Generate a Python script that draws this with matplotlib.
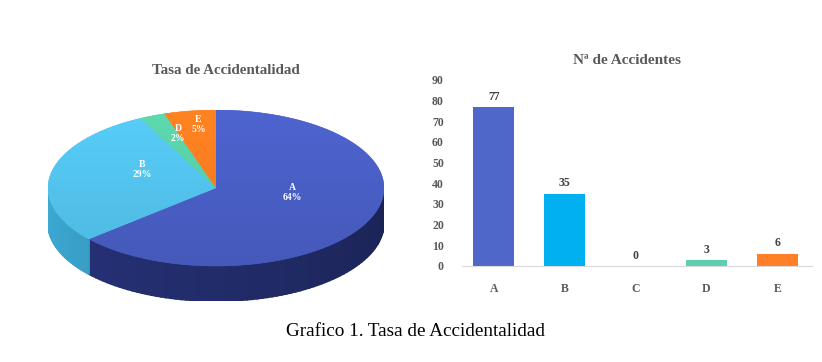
import numpy as np
import matplotlib
matplotlib.use("Agg")
import matplotlib.pyplot as plt
from matplotlib.patches import Polygon
from matplotlib.colors import to_rgb

categories = ["A", "B", "C", "D", "E"]
accidents = [77, 35, 0, 3, 6]
bar_colors = ["#4F67C8", "#00B0F0", "#A5A5A5", "#5CCFB0", "#FF7F27"]
pie_top_colors = ["#4A5FC6", "#53C4EE", "#A5A5A5", "#5ACFA8", "#F77D20"]
pie_side_colors = ["#263278", "#3AA3CC", "#808080", "#3FA888", "#C05A10"]
yticks = [0, 10, 20, 30, 40, 50, 60, 70, 80, 90]

W, H = 822, 362
fig = plt.figure(figsize=(W / 100, H / 100), dpi=100)
fig.patch.set_facecolor("white")
serif = "Liberation Serif"
grey = "#595959"

# ---------------- 3D pie -----------------
cx, cy, a_px, b_px = 216, 188, 168, 78
depth = 0.45  # in y units of the pie axes
axp = fig.add_axes([(cx - a_px) / W, 1 - (cy + b_px + depth * b_px) / H,
                    2 * a_px / W, (2 + depth) * b_px / H])
axp.axis("off")

total = sum(accidents)
fracs = [v / total for v in accidents]
start = 90.0
angles = []
for f in fracs:
    end = start - 360 * f
    angles.append((end, start))
    start = end

def shade(c, k):
    r, g, b = to_rgb(c)
    return (min(r * k, 1), min(g * k, 1), min(b * k, 1))

# sides (front half only)
for (a0, a1), col, v in zip(angles, pie_side_colors, accidents):
    if v == 0:
        continue
    lo, hi = np.radians(a0), np.radians(a1)
    for off in (0, -2 * np.pi, 2 * np.pi):
        s = max(lo + off, -np.pi)
        e = min(hi + off, 0)
        if e > s:
            t = np.linspace(s, e, 80)
            for i in range(len(t) - 1):
                x0, x1 = np.cos(t[i]), np.cos(t[i + 1])
                y0, y1 = np.sin(t[i]), np.sin(t[i + 1])
                k = 1.05 - 0.35 * (t[i] + np.pi) / np.pi
                c = shade(col, k)
                poly = Polygon([(x0, y0), (x1, y1), (x1, y1 - depth), (x0, y0 - depth)],
                               closed=True, facecolor=c, edgecolor=c, linewidth=1.2)
                axp.add_patch(poly)

# top face with soft vertical gradient
for (a0, a1), col, v in zip(angles, pie_top_colors, accidents):
    if v == 0:
        continue
    t = np.radians(np.linspace(a0, a1, 200))
    pts = [(0, 0)] + list(zip(np.cos(t), np.sin(t)))
    patch = Polygon(pts, closed=True, facecolor=col, edgecolor=col, linewidth=0.3)
    axp.add_patch(patch)
    ramp = np.linspace(1.05, 0.94, 100)
    img = np.array([[shade(col, k)] for k in ramp])
    im = axp.imshow(img, extent=(-1, 1, -1, 1), aspect="auto", origin="upper",
                    interpolation="bilinear", zorder=1.5)
    im.set_clip_path(patch)

axp.set_xlim(-1, 1)
axp.set_ylim(-1 - depth, 1)

label_xy_r = [0.5, 0.45, 0.62, 0.59, 0.67]
lift = 0.15
for (a0, a1), cat, f, r, v in zip(angles, categories, fracs, label_xy_r, accidents):
    if v == 0:
        continue
    m = np.radians((a0 + a1) / 2)
    axp.text(r * np.cos(m), r * np.sin(m) + lift, f"{cat}\n{round(f * 100):.0f}%",
             ha="center", va="center", color="white", fontsize=7,
             fontweight="bold", family=serif, linespacing=1.1, zorder=3)

fig.text(226 / W, 1 - 71 / H, "Tasa de Accidentalidad", ha="center", va="center",
         fontsize=10.8, fontweight="bold", family=serif, color=grey)

# ---------------- bars -----------------
axb = fig.add_axes([462 / W, 1 - 266 / H, (812 - 462) / W, (266 - 80) / H])
x = np.arange(len(categories))
axb.bar(x, accidents, width=0.58, color=bar_colors)
axb.set_xlim(-0.45, 4.49)
axb.set_ylim(0, 90)
axb.set_yticks(yticks)
axb.set_xticks(x)
axb.set_xticklabels(categories)
for sp in ["top", "right", "left"]:
    axb.spines[sp].set_visible(False)
axb.spines["bottom"].set_color("#D9D9D9")
axb.tick_params(length=0, labelsize=8.5, colors=grey, pad=12)
axb.tick_params(axis="y", pad=13)
for lab in axb.get_xticklabels() + axb.get_yticklabels():
    lab.set_family(serif)
    lab.set_fontweight("bold")
for xi, v in zip(x, accidents):
    axb.annotate(str(v), (xi, v), xytext=(0, 3), textcoords="offset points",
                 ha="center", va="bottom", fontsize=8.5, fontweight="bold",
                 family=serif, color="#404040")

fig.text(627 / W, 1 - 60 / H, "Nª de Accidentes", ha="center", va="center",
         fontsize=11, fontweight="bold", family=serif, color=grey)

fig.text(415 / W, 1 - 332 / H, "Grafico 1. Tasa de Accidentalidad", ha="center",
         va="center", fontsize=13.8, family=serif, color="black")

fig.savefig("out.png", dpi=100)
